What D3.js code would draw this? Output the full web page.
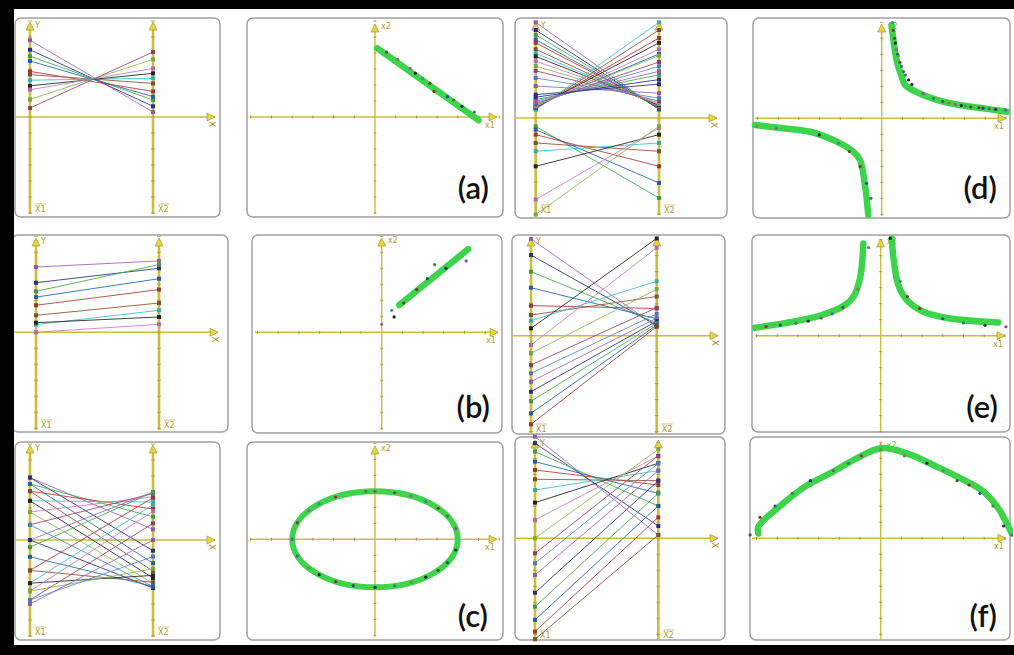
<!DOCTYPE html>
<html><head><meta charset="utf-8">
<script src="https://cdn.jsdelivr.net/npm/d3@7"></script>
<style>body{margin:0;background:#fff}svg{display:block}</style>
</head><body>
<script>
// ---------- sample points (x1, x2) for each figure ----------
// (a) points on a falling straight line
const aX1 = [4.8, 4.2, 3.8, 3.5, 2.85, 2.65, 2.3, 1.95, 1.7, 1.1, 0.56];
const aX2 = [0.31, 0.67, 1.06, 1.27, 1.6, 2.1, 2.42, 2.73, 3.04, 3.6, 4.06];
const aFitX1 = [0.1, 5.0];
const aFitX2 = [4.3, -0.2];

// (b) points near a rising straight line
const bX1 = [4.08, 3.1, 2.56, 2.2, 1.69, 1.06, 0.48, 0.6, 0.0];
const bX2 = [4.46, 4.0, 4.23, 3.35, 2.67, 1.83, 1.375, 0.96, 0.5];
const bFitX1 = [0.85, 4.18];
const bFitX2 = [1.7, 5.2];

// (c) points on an ellipse
const cX1 = [3.9, 3.9, 3.5, 3.5, 3.05, 3.05, 2.45, 2.45, 1.75, 1.75, 0.95, 0.95, 0.0, 0.0, -0.45, -1.05, -1.9, -1.9, -2.7, -2.7, -3.2, -3.2, -3.75, -3.75, -4.0];
const cX2 = [0.67, -0.67, 1.45, -1.45, 1.94, -1.94, 2.37, -2.37, 2.7, -2.7, 2.91, -2.91, 3.0, -3.0, 2.98, -2.9, 2.64, -2.64, 2.21, -2.21, 1.8, -1.8, 1.04, -1.04, 0.0];
const cFitRadii = [4, 3];

// (d) points on a hyperbola in the first and third quadrants
const dX1 = [5.98, 5.5, 5.2, 4.9, 4.7, 4.3, 4.05, 3.85, 3.55, 3.25, 2.95, 2.5, 2.0, 1.46, 1.15, 0.77, 0.62, 0.56, 0.52, 0.66, 0.72, 0.8, 0.88, 0.96, 1.06, 1.3,
             -0.52, -0.73, -1.04, -1.56, -2.08, -3.02, -5.1, -6.04];
const dX2 = [0.52, 0.56, 0.6, 0.63, 0.66, 0.72, 0.77, 0.8, 0.87, 0.95, 1.05, 1.24, 1.55, 2.12, 2.7, 4.0, 5.0, 5.5, 5.98, 4.7, 4.3, 3.9, 3.5, 3.23, 2.92, 2.4,
             -5.0, -4.06, -3.02, -2.08, -1.56, -1.04, -0.625, -0.52];
const dFitUpX1 = [0.48, 0.72, 0.97, 1.13, 2.0, 3.3, 4.9, 6.04];
const dFitUpX2 = [5.83, 3.64, 2.6, 2.08, 1.46, 0.94, 0.625, 0.41];
const dFitLoX1 = [-6.12, -4.75, -3.46, -2.17, -1.37, -1.05, -0.8, -0.65];
const dFitLoX2 = [-0.42, -0.625, -0.84, -1.46, -2.09, -2.6, -4.27, -6.04];

// (e) points on a hyperbola symmetric about the x2 axis
const eX1 = [6.05, 5.04, 4.0, 3.0, 1.88, 1.29, 0.94, 0.46, -0.58, -1.1, -1.83, -2.35, -2.87, -3.5, -4.1, -4.85, -5.54];
const eX2 = [0.56, 0.65, 0.8, 1.06, 1.7, 2.45, 3.4, 6.08, 5.5, 2.9, 1.75, 1.36, 1.1, 0.91, 0.78, 0.66, 0.57];
const eFitRX1 = [0.53, 0.64, 0.85, 1.26, 2.06, 3.35, 5.68];
const eFitRX2 = [6.08, 4.63, 3.17, 2.23, 1.5, 1.08, 0.83];
const eFitLX1 = [-0.84, -1.0, -1.32, -1.72, -2.93, -4.7, -6.07];
const eFitLX2 = [5.77, 3.58, 2.44, 1.92, 1.25, 0.77, 0.5];

// (f) points on a downward arch
const fX1 = [6.35, 5.94, 5.42, 4.79, 4.27, 3.69, 3.02, 2.23, 1.15, 0.0, -0.94, -1.56, -2.29, -3.4, -4.27, -5.1, -5.83, -6.31];
const fX2 = [0.21, 0.77, 2.02, 2.81, 3.33, 3.6, 4.23, 4.69, 5.15, 5.56, 5.15, 4.69, 4.23, 3.6, 2.81, 2.02, 1.31, 0.21];
const fFitX1 = [-5.91, -5.91, -4.7, -3.66, -2.29, -1.16, 0.0, 1.26, 2.7, 4.0, 4.96, 5.68, 6.09, 6.33];
const fFitX2 = [0.3, 0.73, 2.19, 3.23, 4.17, 5.0, 5.63, 5.31, 4.48, 3.65, 2.92, 1.875, 0.94, 0.31];

const panelLabels = ["(a)", "(b)", "(c)", "(d)", "(e)", "(f)"];
const axisNames = ["X1", "X2"];
const valueDomain = [-6, 6];

const palette = ["#a569bd", "#2e3a87", "#4caf50", "#2d6cb5", "#b5403a", "#8d5b3b",
                 "#45c4c8", "#2b2b2b", "#c97fc9", "#8cc152", "#9b4d7a", "#5b8fd0"];

// ---------- page ----------
const W = 1014, H = 655;
const AXIS = "#cdbd3c", AXIS_DARK = "#a89530", TEXT = "#b09a30", FIT = "#3dd34b";
const svg = d3.select("body").append("svg").attr("width", W).attr("height", H);
svg.append("rect").attr("width", W).attr("height", H).attr("fill", "#fff");

let clipId = 0;
function panelFrame(box) {
  const [x0, y0, x1, y1] = box;
  const g = svg.append("g");
  g.append("rect").attr("x", x0).attr("y", y0).attr("width", x1 - x0).attr("height", y1 - y0)
    .attr("rx", 6).attr("fill", "#fff").attr("stroke", "#a0a0a0").attr("stroke-width", 1.5);
  const id = "clip" + (clipId++);
  svg.append("clipPath").attr("id", id).append("rect")
    .attr("x", x0 - 3).attr("y", y0 - 3).attr("width", x1 - x0 + 6).attr("height", y1 - y0 + 6);
  return g.append("g").attr("clip-path", `url(#${id})`);
}

function arrowUp(g, x, y) {
  g.append("path").attr("d", `M${x},${y} L${x - 4},${y + 8} L${x + 4},${y + 8} Z`)
    .attr("fill", "#e6d640").attr("stroke", AXIS_DARK).attr("stroke-width", 0.7);
}
function arrowRight(g, x, y) {
  g.append("path").attr("d", `M${x},${y} L${x - 8},${y - 4} L${x - 8},${y + 4} Z`)
    .attr("fill", "#e6d640").attr("stroke", AXIS_DARK).attr("stroke-width", 0.7);
}
function tinyText(g, x, y, s, rot) {
  const t = g.append("text").attr("x", x).attr("y", y).text(s)
    .attr("font-family", "DejaVu Sans").attr("font-size", 8).attr("fill", TEXT);
  if (rot) t.attr("transform", `rotate(${rot},${x},${y})`);
  return t;
}

// Parallel-coordinate panel: every (x1, x2) sample becomes a segment between two axes
function parallelPanel(L, x1s, x2s) {
  const g = panelFrame(L.box);
  const y = d3.scaleLinear().domain(valueDomain).range([L.zero + 96, L.zero - 96]);
  const x = d3.scalePoint().domain(axisNames).range([L.left, L.right]);

  // horizontal axis
  g.append("line").attr("x1", L.hStart).attr("x2", L.hEnd).attr("y1", L.zero).attr("y2", L.zero)
    .attr("stroke", AXIS).attr("stroke-width", 1.6);
  arrowRight(g, L.hEnd, L.zero);
  tinyText(g, L.hEnd - 6, L.zero + 4, "X", 90).attr("font-size", 9);

  // the two vertical axes
  axisNames.forEach(k => {
    const ax = x(k);
    g.append("line").attr("x1", ax).attr("x2", ax).attr("y1", L.bottom).attr("y2", L.top + 4)
      .attr("stroke", AXIS).attr("stroke-width", 2.6);
    g.append("line").attr("x1", ax + 4).attr("x2", ax + 4).attr("y1", L.bottom).attr("y2", L.top + 6)
      .attr("stroke", "#ddd").attr("stroke-width", 0.6).attr("stroke-dasharray", "1,3");
    arrowUp(g, ax, L.top);
    g.selectAll(null).data(y.ticks(12)).join("line")
      .attr("x1", ax - 2).attr("x2", ax + 2).attr("y1", d => y(d)).attr("y2", d => y(d))
      .attr("stroke", AXIS_DARK).attr("stroke-width", 0.8);
    tinyText(g, ax + 5, L.bottom - 2, k);
    g.append("line").attr("x1", ax + 5).attr("x2", ax + 16).attr("y1", L.bottom - 10).attr("y2", L.bottom - 10)
      .attr("stroke", TEXT).attr("stroke-width", 0.6);
  });
  tinyText(g, L.left + 5, L.top + 6, "Y");

  const rows = x1s.map((v, i) => ({ x1: v, x2: x2s[i], c: palette[i % palette.length] }));
  const line = d3.line();
  g.selectAll("path.seg").data(rows).join("path").attr("class", "seg")
    .attr("d", d => line([[x("X1"), y(d.x1)], [x("X2"), y(d.x2)]]))
    .attr("fill", "none").attr("stroke", d => d.c).attr("stroke-width", 1).attr("opacity", 0.9);
  const ends = rows.flatMap(d => [{ k: "X1", v: d.x1, c: d.c }, { k: "X2", v: d.x2, c: d.c }]);
  g.selectAll("rect.end").data(ends).join("rect").attr("class", "end")
    .attr("x", d => x(d.k) - 2).attr("y", d => y(d.v) - 2).attr("width", 4).attr("height", 4)
    .attr("fill", d => d3.color(d.c).darker(0.4));
}

// Cartesian panel: the same samples as points, with the fitted shape in thick green
function cartesianPanel(L, x1s, x2s, fits, label) {
  const g = panelFrame(L.box);
  const xs = d3.scaleLinear().domain(valueDomain).range([L.ox - 124.2, L.ox + 124.2]);
  const ys = d3.scaleLinear().domain(valueDomain).range([L.oy + 96, L.oy - 96]);

  g.append("line").attr("x1", L.xs).attr("x2", L.xe).attr("y1", ys(0)).attr("y2", ys(0))
    .attr("stroke", AXIS).attr("stroke-width", 1.4);
  g.append("line").attr("x1", xs(0)).attr("x2", xs(0)).attr("y1", L.bottom).attr("y2", L.top + 4)
    .attr("stroke", AXIS).attr("stroke-width", 1.4);
  arrowRight(g, L.xe, ys(0));
  arrowUp(g, xs(0), L.top);
  g.selectAll(null).data(xs.ticks(12).filter(d => d !== 0)).join("line")
    .attr("x1", d => xs(d)).attr("x2", d => xs(d)).attr("y1", ys(0) - 1.5).attr("y2", ys(0) + 1.5)
    .attr("stroke", AXIS_DARK).attr("stroke-width", 1);
  g.selectAll(null).data(ys.ticks(12).filter(d => d !== 0)).join("line")
    .attr("x1", xs(0) - 1.5).attr("x2", xs(0) + 1.5).attr("y1", d => ys(d)).attr("y2", d => ys(d))
    .attr("stroke", AXIS_DARK).attr("stroke-width", 1);
  tinyText(g, xs(0) + 6, L.top + 5, "x2");
  tinyText(g, L.xe - 12, ys(0) + 11, "x1");

  const curve = d3.line().x(d => xs(d[0])).y(d => ys(d[1])).curve(d3.curveCatmullRom.alpha(0.5));
  fits.forEach(f => {
    if (f.radii) {
      g.append("ellipse").attr("cx", xs(0)).attr("cy", ys(0))
        .attr("rx", xs(f.radii[0]) - xs(0)).attr("ry", ys(0) - ys(f.radii[1]))
        .attr("fill", "none").attr("stroke", FIT).attr("stroke-width", 6);
    } else {
      g.append("path").attr("d", curve(f.x1.map((v, i) => [v, f.x2[i]])))
        .attr("fill", "none").attr("stroke", FIT).attr("stroke-width", 6.5)
        .attr("stroke-linecap", "round").attr("stroke-linejoin", "round");
    }
  });

  const pts = x1s.map((v, i) => ({ x1: v, x2: x2s[i], c: palette[i % palette.length] }));
  g.selectAll("circle.pt").data(pts).join("circle").attr("class", "pt")
    .attr("cx", d => xs(d.x1)).attr("cy", d => ys(d.x2)).attr("r", 1.6)
    .attr("fill", d => d3.color(d.c).darker(0.8));

  svg.append("text").attr("x", L.lx).attr("y", L.ly).attr("text-anchor", "end")
    .attr("font-family", "Lato, 'Open Sans', sans-serif").attr("font-size", 31)
    .attr("font-weight", 600).attr("fill", "#111")
    .text(label);
}

// ---------- layout ----------
parallelPanel({ box: [15, 18, 220, 217], left: 30, right: 153, zero: 117, top: 22, bottom: 214, hStart: 15, hEnd: 215 }, aX1, aX2);
cartesianPanel({ box: [247, 18, 503, 217], ox: 375, oy: 117, xs: 250, xe: 497, top: 24, bottom: 214, lx: 489, ly: 199 },
  aX1, aX2, [{ x1: aFitX1, x2: aFitX2 }], panelLabels[0]);

parallelPanel({ box: [515, 18, 727, 218], left: 535.7, right: 659, zero: 118, top: 22, bottom: 215, hStart: 515, hEnd: 717 }, dX1, dX2);
cartesianPanel({ box: [753, 18, 1010, 218], ox: 881.7, oy: 118.3, xs: 755, xe: 1006, top: 24, bottom: 216, lx: 997, ly: 199 },
  dX1, dX2, [{ x1: dFitUpX1, x2: dFitUpX2 }, { x1: dFitLoX1, x2: dFitLoX2 }], panelLabels[3]);

parallelPanel({ box: [12, 235, 228, 432], left: 36, right: 159, zero: 332.3, top: 238, bottom: 430, hStart: 14, hEnd: 218 }, bX1, bX2);
cartesianPanel({ box: [252, 235, 502, 433], ox: 381.7, oy: 332.3, xs: 255, xe: 498, top: 238, bottom: 430, lx: 490, ly: 418 },
  bX1, bX2, [{ x1: bFitX1, x2: bFitX2 }], panelLabels[1]);

parallelPanel({ box: [512, 235, 725, 434], left: 531, right: 656.7, zero: 335.7, top: 238, bottom: 434, hStart: 512, hEnd: 718 }, eX1, eX2);
cartesianPanel({ box: [752, 235, 1010, 432], ox: 880.7, oy: 335.7, xs: 755, xe: 1005, top: 239, bottom: 432, lx: 998, ly: 418 },
  eX1, eX2, [{ x1: eFitRX1, x2: eFitRX2 }, { x1: eFitLX1, x2: eFitLX2 }], panelLabels[4]);

parallelPanel({ box: [15, 442, 220, 640], left: 30, right: 153, zero: 540, top: 445, bottom: 637, hStart: 15, hEnd: 215 }, cX1, cX2);
cartesianPanel({ box: [247, 442, 503, 640], ox: 375, oy: 539.3, xs: 250, xe: 497, top: 446, bottom: 637, lx: 488, ly: 627 },
  cX1, cX2, [{ radii: cFitRadii }], panelLabels[2]);

parallelPanel({ box: [515, 437, 725, 640], left: 535, right: 658.3, zero: 538.3, top: 440, bottom: 640, hStart: 515, hEnd: 718 }, fX1, fX2);
cartesianPanel({ box: [750, 437, 1010, 640], ox: 880.7, oy: 538.3, xs: 752, xe: 1006, top: 443, bottom: 640, lx: 997, ly: 627 },
  fX1, fX2, [{ x1: fFitX1, x2: fFitX2 }], panelLabels[5]);

// heavy outer frame
svg.append("rect").attr("x", 0).attr("y", 0).attr("width", W).attr("height", 9).attr("fill", "#000");
svg.append("rect").attr("x", 0).attr("y", 0).attr("width", 14).attr("height", H).attr("fill", "#000");
svg.append("rect").attr("x", 0).attr("y", 645).attr("width", W).attr("height", 10).attr("fill", "#000");
</script>
</body></html>
